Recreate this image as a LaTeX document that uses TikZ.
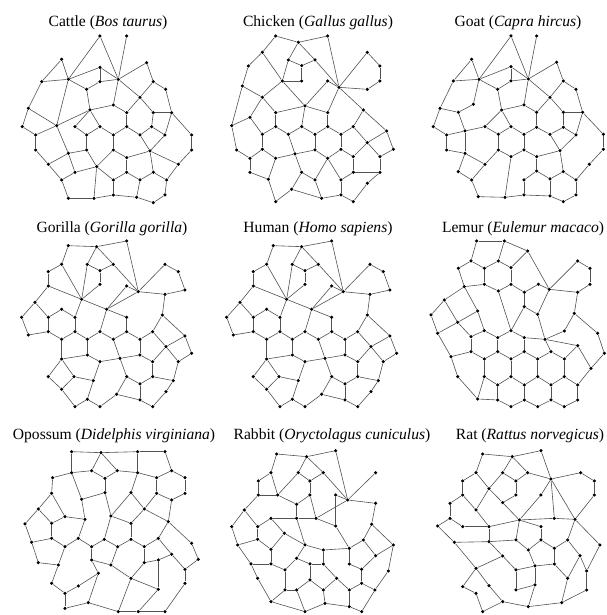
\documentclass[tikz,border=0pt]{standalone}
\usepackage{fontspec}
\setmainfont{Liberation Serif}
\tikzset{
 dt/.style={circle,fill=black,inner sep=0pt,minimum size=3.5pt},
 ln/.style={draw=black!68,line width=0.6pt},
 ttl/.style={font=\fontsize{15.6}{18}\selectfont,inner sep=0pt}
}
\newcommand\gnodes[2]{\foreach \n/\x/\y in {#2} {\node[dt] (#1\n) at (\x,\y) {};}}
\newcommand\gedges[2]{\foreach \a/\b in {#2} {\draw[ln] (#1\a) -- (#1\b);}}
\newcommand\gorgraph[1]{%
\gnodes{#1}{1/205/122, 2/290/125, 3/380/108, 4/185/178, 5/262/178, 6/300/197, 7/340/178, 8/495/178, 9/145/200, 10/535/200, 11/145/243, 12/300/238, 13/380/243, 14/415/260, 15/495/268, 16/555/255, 17/245/283, 18/105/292, 19/320/313, 20/185/313, 21/487/330, 22/65/337, 23/145/337, 24/225/337, 25/380/337, 26/85/390, 27/145/380, 28/225/380, 29/300/380, 30/380/380, 31/458/380, 32/185/403, 33/262/403, 34/340/403, 35/420/403, 36/555/393, 37/498/425, 38/262/450, 39/300/470, 40/360/460, 41/420/450, 42/458/470, 43/575/445, 44/535/470, 45/185/462, 46/145/515, 47/222/515, 48/280/527, 49/380/515, 50/420/537, 51/458/515, 52/520/527, 53/185/553, 54/262/583, 55/225/605, 56/300/605, 57/350/568, 58/420/585, 59/458/605, 60/498/560}
\gedges{#1}{1/2, 2/3, 1/4, 4/9, 9/11, 11/18, 18/22, 22/26, 26/27, 27/23, 23/18, 23/20, 20/24, 17/24, 2/7, 7/14, 3/14, 2/5, 5/6, 6/7, 5/17, 6/12, 12/17, 11/17, 4/17, 17/19, 19/14, 13/14, 13/19, 14/8, 8/10, 10/16, 16/15, 15/14, 15/21, 21/36, 21/31, 19/25, 24/28, 27/32, 32/28, 28/33, 33/29, 29/19, 29/34, 34/30, 30/25, 30/35, 35/31, 31/37, 37/36, 36/43, 43/44, 44/37, 37/42, 42/41, 41/35, 41/40, 40/34, 40/39, 39/38, 38/33, 38/45, 45/32, 45/46, 45/47, 46/53, 53/55, 55/54, 54/56, 56/57, 57/58, 58/59, 59/60, 60/52, 52/44, 52/51, 51/42, 51/50, 50/49, 49/40, 50/58, 47/53, 47/48, 48/54, 48/39, 49/57}}
\begin{document}
\begin{tikzpicture}[x=1pt,y=-1pt]
\useasboundingbox (0,0) rectangle (606,615);
% titles
\node[ttl] (t1) at (108,23) {Cattle (\textit{Bos taurus})};
\node[ttl] (t2) at (318,23) {Chicken (\textit{Gallus gallus})};
\node[ttl] (t3) at (518,23) {Goat (\textit{Capra hircus})};
\node[ttl] (t4) at (112,229) {Gorilla (\textit{Gorilla gorilla})};
\node[ttl] (t5) at (318,229) {Human (\textit{Homo sapiens})};
\node[ttl] (t6) at (523,229) {Lemur (\textit{Eulemur macaco})};
\node[ttl] (t7) at (114,436) {Opossum (\textit{Didelphis virginiana})};
\node[ttl] (t8) at (332,436) {Rabbit (\textit{Oryctolagus cuniculus})};
\node[ttl] (t9) at (530,436) {Rat (\textit{Rattus norvegicus})};
% Cattle
\begin{scope}[shift={(0,0)},x=0.3333pt,y=-0.3333pt]
\gnodes{a}{1/300/108, 2/380/108, 3/185/178, 4/300/202, 5/440/188, 6/125/245, 7/205/238, 8/300/245, 9/355/238, 10/460/245, 11/260/268, 12/497/268, 13/420/292, 14/85/325, 15/340/315, 16/270/330, 17/380/338, 18/460/338, 19/515/338, 20/67/380, 21/170/377, 22/225/380, 23/300/380, 24/380/380, 25/455/380, 26/107/405, 27/260/405, 28/340/405, 29/420/405, 30/495/405, 31/575/405, 32/107/450, 33/205/460, 34/260/450, 35/340/450, 36/380/473, 37/450/453, 38/575/450, 39/145/493, 40/290/500, 41/225/517, 42/380/517, 43/460/517, 44/535/493, 45/185/540, 46/340/540, 47/420/540, 48/500/540, 49/205/595, 50/282/595, 51/340/585, 52/410/592, 53/495/585, 54/460/608}
\gedges{a}{1/7, 1/9, 2/9, 3/6, 3/7, 6/7, 7/4, 4/8, 4/9, 8/9, 7/11, 11/8, 11/16, 6/14, 14/20, 14/21, 7/21, 21/16, 16/15, 16/22, 16/23, 9/5, 9/13, 9/15, 5/10, 10/12, 12/19, 13/10, 13/17, 13/18, 15/17, 17/24, 18/19, 18/25, 19/30, 19/31, 20/26, 26/21, 22/27, 27/23, 23/28, 28/24, 24/29, 29/25, 25/30, 27/34, 28/35, 30/37, 29/37, 31/38, 38/44, 26/32, 32/39, 39/45, 45/49, 49/50, 50/51, 51/52, 52/54, 54/53, 53/48, 48/44, 48/43, 43/47, 47/42, 42/36, 36/35, 35/40, 40/34, 40/41, 40/46, 40/50, 46/42, 46/51, 47/52, 33/34, 33/21, 33/39, 33/41, 41/45, 37/36, 37/44, 37/43}
\end{scope}
% Chicken
\begin{scope}[shift={(205,0)},x=0.3333pt,y=-0.3333pt]
\gnodes{b}{1/212/108, 2/280/127, 3/368/108, 4/172/157, 5/487/157, 6/250/180, 7/290/197, 8/330/180, 9/525/198, 10/130/198, 11/232/243, 12/290/243, 13/368/243, 14/402/262, 15/487/268, 16/525/243, 17/112/258, 18/172/292, 19/300/318, 20/475/330, 21/135/352, 22/212/338, 23/368/338, 24/80/377, 25/212/380, 26/290/380, 27/368/380, 28/445/380, 29/172/403, 30/250/403, 31/330/403, 32/408/403, 33/545/393, 34/487/428, 35/95/450, 36/172/448, 37/270/462, 38/330/450, 39/408/448, 40/565/448, 41/135/475, 42/212/475, 43/368/475, 44/445/470, 45/525/470, 46/135/517, 47/290/517, 48/330/540, 49/408/540, 50/445/517, 51/525/517, 52/190/538, 53/260/568, 54/487/550, 55/212/605, 56/350/595, 57/408/585, 58/445/605}
\gedges{b}{1/2, 2/3, 1/4, 4/10, 10/17, 17/24, 24/35, 35/41, 41/46, 46/52, 52/55, 55/53, 53/56, 53/47, 52/42, 2/6, 2/8, 8/14, 3/14, 6/7, 7/8, 6/11, 7/12, 11/12, 4/11, 11/18, 17/18, 18/21, 11/19, 13/14, 13/19, 14/23, 22/19, 22/25, 22/18, 19/23, 14/5, 14/15, 14/20, 15/16, 16/9, 9/5, 20/28, 20/33, 21/24, 21/29, 29/25, 25/30, 30/26, 26/19, 26/31, 31/27, 27/23, 27/32, 32/28, 29/36, 30/37, 31/38, 32/39, 36/41, 36/42, 37/42, 37/38, 38/43, 43/39, 39/44, 37/47, 47/48, 48/43, 43/49, 49/50, 50/44, 50/51, 51/45, 45/34, 28/34, 34/33, 33/40, 40/45, 34/44, 48/56, 56/57, 57/49, 57/58, 58/54, 54/51}
\end{scope}
% Goat
\begin{scope}[shift={(405,0)},x=0.3333pt,y=-0.3333pt]
\gnodes{c}{1/318/108, 2/395/108, 3/200/178, 4/318/200, 5/455/187, 6/145/243, 7/222/238, 8/318/243, 9/370/237, 10/475/243, 11/278/268, 12/513/268, 13/435/292, 14/105/325, 15/160/337, 16/205/313, 17/290/330, 18/357/315, 19/395/337, 20/475/337, 21/533/337, 22/85/380, 23/240/380, 24/318/380, 25/395/382, 26/475/382, 27/125/405, 28/180/393, 29/280/403, 30/357/403, 31/435/403, 32/513/405, 33/595/403, 34/125/450, 35/180/460, 36/280/450, 37/357/450, 38/395/470, 39/465/452, 40/595/448, 41/240/493, 42/160/515, 43/395/513, 44/475/515, 45/553/493, 46/200/540, 47/357/540, 48/435/537, 49/513/540, 50/220/590, 51/300/592, 52/357/585, 53/435/588, 54/513/585, 55/475/605, 56/318/470}
\gedges{c}{1/7, 1/9, 2/9, 3/6, 3/7, 6/7, 7/4, 4/8, 4/9, 8/9, 7/11, 11/8, 11/17, 7/16, 16/15, 6/14, 14/22, 14/15, 22/27, 27/28, 28/15, 28/23, 23/17, 17/18, 17/24, 9/5, 9/13, 9/18, 5/10, 10/12, 12/21, 13/10, 13/19, 18/19, 19/25, 20/21, 20/26, 13/20, 21/32, 21/33, 23/29, 24/29, 24/30, 30/25, 25/31, 31/26, 26/32, 29/36, 30/37, 31/39, 32/39, 33/40, 40/45, 34/27, 34/35, 35/28, 35/41, 35/42, 41/36, 36/56, 56/37, 41/46, 42/46, 46/50, 50/51, 51/52, 52/53, 53/55, 55/54, 54/49, 49/45, 49/44, 44/39, 44/48, 48/43, 43/38, 38/37, 38/39, 43/47, 47/52, 48/53, 56/51}
\end{scope}
% Gorilla
\begin{scope}[shift={(0,205)},x=0.3333pt,y=-0.3333pt]
\gorgraph{d}
\end{scope}
% Human
\begin{scope}[shift={(205,205)},x=0.3333pt,y=-0.3333pt]
\gorgraph{e}
\end{scope}
% Lemur
\begin{scope}[shift={(405,205)},x=0.3333pt,y=-0.3333pt]
\gnodes{f}{1/215/108, 2/298/108, 3/368/138, 4/198/168, 5/280/168, 6/160/190, 7/238/190, 8/318/188, 9/518/168, 10/555/190, 11/178/245, 12/238/238, 13/318/238, 14/280/258, 15/358/262, 16/400/238, 17/433/253, 18/518/262, 19/555/238, 20/118/285, 21/218/318, 22/358/305, 23/398/328, 24/508/325, 25/78/330, 26/158/352, 27/98/385, 28/238/377, 29/318/377, 30/198/395, 31/278/398, 32/358/398, 33/420/403, 34/478/378, 35/578/385, 36/518/422, 37/198/440, 38/278/440, 39/358/440, 40/438/440, 41/138/455, 42/238/462, 43/318/462, 44/398/462, 45/598/445, 46/558/490, 47/238/515, 48/318/515, 49/398/515, 50/158/515, 51/278/540, 52/358/540, 53/438/540, 54/478/515, 55/518/540, 56/218/582, 57/278/585, 58/318/605, 59/358/585, 60/398/605, 61/438/585, 62/478/605, 63/518/585, 64/478/462}
\gedges{f}{1/2, 2/3, 1/4, 2/5, 4/6, 4/7, 5/7, 5/8, 8/3, 6/11, 7/12, 8/13, 11/12, 12/14, 14/13, 3/17, 13/15, 15/16, 16/17, 15/22, 22/23, 23/17, 17/9, 9/10, 10/19, 19/18, 18/17, 18/24, 24/34, 24/35, 23/33, 33/36, 33/34, 35/45, 45/46, 46/36, 32/33, 33/40, 30/28, 28/31, 31/29, 29/32, 37/42, 42/38, 38/43, 43/39, 39/44, 44/40, 30/37, 31/38, 32/39, 42/47, 43/48, 44/49, 47/51, 51/48, 48/52, 52/49, 49/53, 53/54, 54/55, 51/57, 52/59, 53/61, 55/63, 57/58, 58/59, 59/60, 60/61, 61/62, 62/63, 56/57, 56/50, 47/56, 50/41, 41/27, 41/37, 11/20, 20/25, 25/27, 20/26, 26/27, 26/21, 21/11, 21/28, 26/30, 14/29, 22/29, 40/64, 64/54, 64/36, 46/55}
\end{scope}
% Opossum
\begin{scope}[shift={(0,410)},x=0.3333pt,y=-0.3333pt]
\gnodes{g}{1/215/125, 2/303/128, 3/413/125, 4/495/125, 5/215/188, 6/275/182, 7/315/205, 8/352/182, 9/413/188, 10/515/182, 11/158/203, 12/470/203, 13/555/203, 14/155/250, 15/245/268, 16/315/248, 17/393/248, 18/555/250, 19/515/270, 20/470/250, 21/433/297, 22/115/297, 23/195/320, 24/255/328, 25/333/318, 26/393/340, 27/75/342, 28/155/340, 29/505/335, 30/95/397, 31/155/385, 32/235/385, 33/313/388, 34/393/388, 35/475/385, 36/195/410, 37/275/410, 38/353/410, 39/433/410, 40/575/400, 41/515/433, 42/115/458, 43/175/465, 44/275/450, 45/333/465, 46/433/458, 47/475/450, 48/595/448, 49/555/478, 51/393/505, 52/475/538, 53/155/520, 54/195/550, 55/235/528, 56/265/578, 57/195/595, 59/355/605, 60/415/605, 61/495/605, 62/555/520, 63/295/490}
\gedges{g}{1/2, 2/3, 3/4, 1/5, 2/6, 2/8, 6/7, 7/8, 5/6, 8/9, 3/9, 4/10, 10/12, 10/13, 13/18, 18/19, 19/20, 20/12, 9/12, 5/11, 11/14, 14/22, 22/27, 22/28, 14/23, 23/28, 23/24, 24/15, 5/15, 15/16, 7/16, 16/25, 17/25, 9/17, 17/21, 20/21, 21/26, 21/29, 25/26, 25/33, 24/32, 27/30, 30/31, 28/31, 31/36, 32/36, 32/37, 33/37, 33/38, 34/38, 34/39, 26/34, 35/39, 35/29, 29/19, 29/40, 40/48, 48/49, 49/41, 41/35, 41/47, 47/46, 46/39, 46/51, 51/45, 45/38, 45/44, 44/37, 30/42, 42/43, 43/36, 43/53, 53/54, 54/55, 55/63, 63/44, 54/57, 57/56, 56/63, 56/59, 59/51, 59/60, 60/52, 52/51, 52/47, 60/61, 61/62, 62/49}
\end{scope}
% Rabbit
\begin{scope}[shift={(205,410)},x=0.3333pt,y=-0.3333pt]
\gnodes{h}{1/215/132, 2/305/140, 3/392/122, 4/198/188, 5/280/188, 6/355/188, 7/512/188, 8/160/213, 9/315/213, 10/160/255, 11/218/255, 12/315/255, 13/392/255, 14/428/270, 15/512/280, 16/118/300, 17/198/325, 18/275/283, 19/275/325, 20/333/325, 22/500/343, 23/80/350, 24/158/350, 25/238/370, 26/392/348, 27/158/388, 28/98/405, 29/300/405, 30/355/420, 31/433/415, 32/475/390, 33/565/405, 34/512/437, 35/198/418, 36/275/445, 37/355/462, 38/433/462, 39/138/462, 40/198/462, 41/315/462, 42/470/478, 43/550/483, 44/395/505, 45/240/480, 46/275/540, 47/315/510, 48/355/540, 49/433/540, 50/470/520, 51/510/540, 52/158/505, 53/198/575, 54/240/540, 55/300/605, 56/360/580, 57/433/590, 58/470/605}
\gedges{h}{1/2, 2/3, 1/4, 2/5, 2/6, 6/14, 3/14, 4/8, 4/11, 5/9, 5/11, 9/6, 9/12, 8/10, 10/11, 10/16, 11/18, 18/19, 19/20, 12/20, 12/18, 20/14, 13/14, 13/26, 7/14, 14/15, 15/22, 22/32, 22/33, 16/23, 16/24, 23/28, 24/27, 27/28, 27/35, 17/24, 17/25, 17/19, 19/29, 25/29, 20/26, 26/31, 29/36, 29/30, 30/31, 30/37, 31/32, 31/38, 32/34, 33/34, 33/43, 34/42, 42/38, 42/50, 43/51, 50/51, 50/49, 49/44, 44/37, 44/48, 48/47, 47/41, 41/36, 41/37, 35/40, 35/25, 40/39, 40/45, 36/45, 45/54, 54/53, 54/46, 46/47, 46/55, 52/53, 52/39, 28/39, 53/55, 55/56, 56/57, 57/58, 58/51, 48/56, 49/57}
\end{scope}
% Rat
\begin{scope}[shift={(405,410)},x=0.3333pt,y=-0.3333pt]
\gnodes{k}{1/233/132, 2/322/140, 3/408/122, 4/213/188, 5/293/188, 6/368/188, 7/438/207, 8/527/188, 9/173/213, 10/333/213, 11/252/236, 12/568/213, 13/173/255, 14/333/255, 15/293/278, 16/408/255, 18/568/255, 19/135/280, 20/213/300, 21/135/325, 22/343/330, 23/448/325, 24/510/328, 25/98/348, 26/173/350, 27/252/350, 28/408/350, 29/148/397, 30/252/395, 31/333/390, 32/408/390, 33/488/390, 34/585/405, 35/293/438, 36/370/420, 37/448/415, 38/525/437, 39/213/475, 40/333/480, 41/390/468, 42/448/462, 43/488/505, 44/545/483, 45/173/530, 46/252/527, 47/333/540, 48/390/525, 49/545/540, 50/233/605, 51/293/575, 52/370/590, 53/470/578, 54/213/550}
\gedges{k}{1/2, 2/3, 1/4, 4/9, 9/13, 13/19, 19/21, 21/25, 25/29, 21/26, 2/5, 2/6, 5/10, 6/10, 5/11, 6/7, 3/7, 7/8, 8/12, 12/18, 18/24, 7/23, 7/24, 7/16, 16/22, 10/14, 14/15, 11/15, 15/22, 4/11, 11/20, 13/20, 20/27, 26/27, 29/30, 22/23, 23/24, 22/27, 22/28, 22/31, 27/30, 30/31, 28/32, 31/36, 32/36, 32/37, 37/33, 33/24, 33/38, 34/24, 34/44, 38/44, 38/43, 44/49, 43/42, 42/37, 42/41, 41/36, 41/48, 48/47, 47/40, 40/35, 40/41, 35/30, 35/39, 39/29, 39/45, 39/46, 45/54, 54/50, 50/51, 51/46, 51/52, 52/53, 53/43, 53/49, 52/48}
\end{scope}
\end{tikzpicture}
\end{document}
